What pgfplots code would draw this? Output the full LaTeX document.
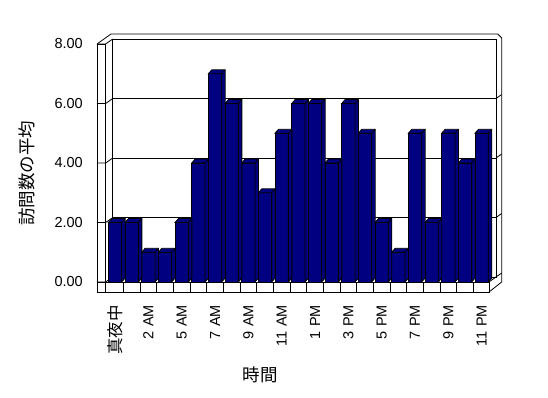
\documentclass[border=0pt]{standalone}
\usepackage{fontspec}
\setmainfont{Liberation Sans}
\newfontfamily\cjk{Noto Sans CJK JP}
\usepackage{pgfplots}
\pgfplotsset{compat=1.18}
\usepackage{pgfplotstable}
\definecolor{navy}{RGB}{0,0,128}
\pgfplotstableread{
x y
0 2
1 2
2 1
3 1
4 2
5 4
6 7
7 6
8 4
9 3
10 5
11 6
12 6
13 4
14 6
15 5
16 2
17 1
18 5
19 2
20 5
21 4
22 5
}\visits
\pgfdeclareplotmark{bar3d}{%
  \pgfmathsetmacro\hh{-\barval*29.75}%
  \pgfmathsetmacro\hb{4-\barval*29.75}%
  \pgfpathmoveto{\pgfqpoint{-6.667pt}{0pt}}%
  \pgfpathlineto{\pgfqpoint{-3.167pt}{4pt}}%
  \pgfpathlineto{\pgfqpoint{10.167pt}{4pt}}%
  \pgfpathlineto{\pgfpoint{10.167pt}{\hb pt}}%
  \pgfpathlineto{\pgfpoint{6.667pt}{\hh pt}}%
  \pgfpathlineto{\pgfqpoint{6.667pt}{0pt}}%
  \pgfpathclose
  \pgfusepathqfillstroke
  \pgfpathmoveto{\pgfqpoint{6.667pt}{0pt}}%
  \pgfpathlineto{\pgfqpoint{10.167pt}{4pt}}%
  \pgfusepathqstroke
}
\begin{document}
\begin{tikzpicture}
\path[use as bounding box] (-106.7pt,-116pt) rectangle (441.3pt,282pt);
\begin{scope}[line width=0.8pt]
  \draw (6pt,5pt) rectangle (389.3pt,243pt);
  \draw (-9.7pt,238pt) -- (4.3pt,248pt) -- (391pt,248pt) -- (395pt,244pt) -- (395pt,0pt) -- (382.3pt,-10pt);
  \draw (-9.7pt,-10pt) rectangle (-1pt,238pt);
  \draw (-9.7pt,-10pt) rectangle (382.3pt,0pt);
  \draw (382.3pt,0pt) -- (389.3pt,5pt);
  \foreach \v in {0,2,4,6,8} {
    \draw (-9.7pt,\v*29.75pt) -- (-1pt,\v*29.75pt) -- (6pt,\v*29.75pt+5pt);
  }
  \foreach \v in {0,2,4,6} {
    \draw (389.3pt,\v*29.75pt+5pt) -- (395pt,\v*29.75pt+9pt);
  }
\end{scope}
\begin{axis}[
  at={(0pt,0pt)}, anchor=south west,
  scale only axis, width=383.3pt, height=238pt,
  xmin=-0.5, xmax=22.5, ymin=0, ymax=8,
  axis line style={draw=none},
  tick pos=left,
  xtick={0,2,...,22},
  xticklabels={{\cjk\fontsize{16.5}{18}\selectfont 真夜中},2 AM,5 AM,7 AM,9 AM,11 AM,1 PM,3 PM,5 PM,7 PM,9 PM,11 PM},
  minor xtick={0.5,1.5,...,21.5},
  ytick={0,2,4,6,8},
  yticklabels={0.00,2.00,4.00,6.00,8.00},
  major tick length=0pt,
  minor tick length=10pt,
  xtick align=outside,
  tick style={black, line width=0.8pt},
  ymajorgrids,
  major grid style={black, line width=0.8pt, xshift=6pt, yshift=5pt},
  xticklabel style={rotate=90, anchor=east, inner sep=0pt, font=\fontsize{14.5}{16}\selectfont},
  xticklabel shift=23pt,
  yticklabel style={anchor=east, inner sep=0pt, xshift=-23.7pt, font=\fontsize{14.5}{16}\selectfont},
  xlabel={\cjk 時間},
  xlabel style={at={(axis description cs:0.4,-0.391)}, anchor=center, font=\fontsize{17.5}{20}\selectfont},
  ylabel={\cjk 訪問数の平均},
  ylabel style={at={(axis description cs:-0.207,0.458)}, anchor=center, font=\fontsize{17.5}{20}\selectfont},
]
\addplot[ybar, bar width=13.33pt, fill=navy, draw=black, line width=0.8pt] table[x=x,y=y]{\visits};
\addplot[only marks, mark=bar3d, mark options={fill=navy, draw=black, line width=0.8pt},
  visualization depends on={y \as \barval}] table[x=x,y=y]{\visits};
\end{axis}
\end{tikzpicture}
\end{document}
